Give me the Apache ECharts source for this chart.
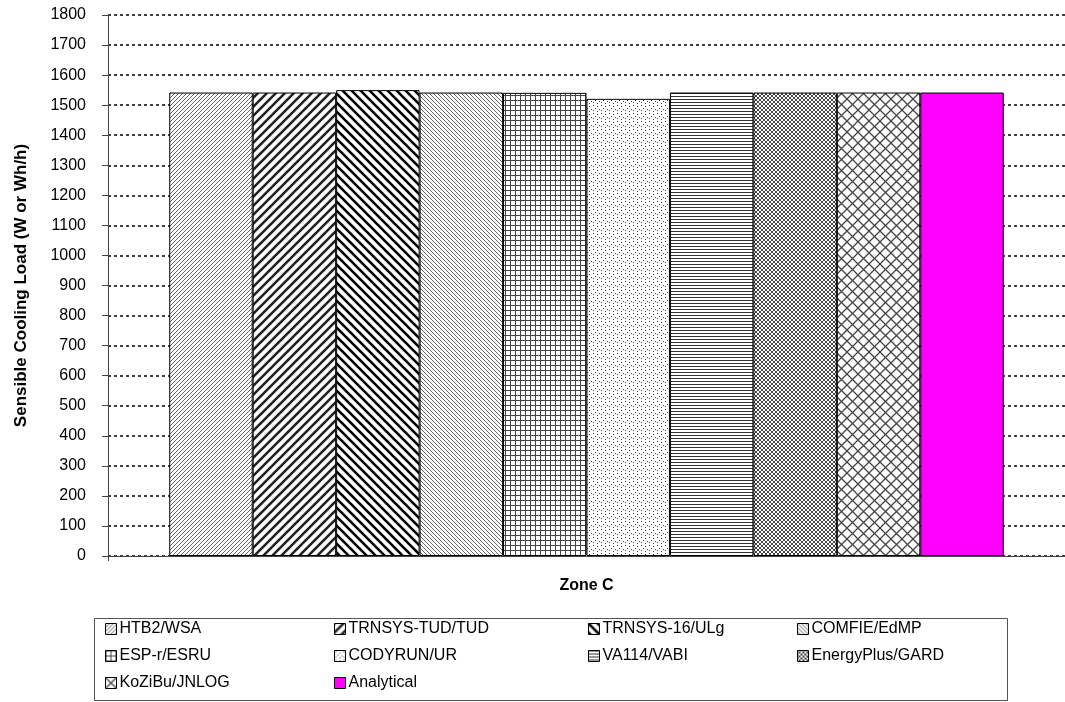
<!DOCTYPE html>
<html>
<head>
<meta charset="utf-8">
<script src="https://cdn.jsdelivr.net/npm/echarts@6/dist/echarts.min.js"></script>
<style>
html,body{margin:0;padding:0;background:#fff;}
#chart{width:1065px;height:702px;}
</style>
</head>
<body>
<div id="chart"></div>
<script>
const categories = ['Zone C'];
const seriesNames = ['HTB2/WSA','TRNSYS-TUD/TUD','TRNSYS-16/ULg','COMFIE/EdMP','ESP-r/ESRU','CODYRUN/UR','VA114/VABI','EnergyPlus/GARD','KoZiBu/JNLOG','Analytical'];
const seriesValues = [1542, 1542, 1550, 1542, 1541, 1521, 1542, 1542, 1542, 1542];
const yTicks = {min: 0, max: 1800, interval: 100};

function mk(size, draw) {
  const c = document.createElement('canvas');
  c.width = size; c.height = size;
  const g = c.getContext('2d');
  g.fillStyle = '#fff'; g.fillRect(0,0,size,size);
  draw(g, size);
  return {image: c, repeat: 'repeat'};
}
function diag(g, s, dir, w, col) {
  g.strokeStyle = col; g.lineWidth = w; g.lineCap = 'square';
  g.beginPath();
  for (let k = -1; k <= 1; k++) {
    if (dir > 0) { g.moveTo(k*s, s); g.lineTo(k*s + s, 0); }
    else { g.moveTo(k*s, 0); g.lineTo(k*s + s, s); }
  }
  g.stroke();
}
const patterns = [
  mk(4, (g,s)=>diag(g,s,1,1,'#666')),
  mk(9, (g,s)=>diag(g,s,1,2.6,'#222')),
  mk(9, (g,s)=>diag(g,s,-1,2.6,'#000')),
  mk(4, (g,s)=>diag(g,s,-1,1,'#666')),
  mk(5, (g,s)=>{ g.fillStyle='#444'; g.fillRect(0,0,s,1); g.fillRect(0,0,1,s); }),
  mk(8, (g,s)=>{ g.fillStyle='#444'; g.fillRect(1,1,1,1); g.fillRect(5,2,1,1); g.fillRect(3,4,1,1); g.fillRect(7,5,1,1); g.fillRect(1,6,1,1); g.fillRect(5,7,1,1);}),
  mk(3, (g,s)=>{ g.fillStyle='#333'; g.fillRect(0,0,s,1); }),
  mk(4, (g,s)=>{ diag(g,s,1,1,'#444'); diag(g,s,-1,1,'#444'); }),
  mk(11, (g,s)=>{ diag(g,s,1,1.3,'#444'); diag(g,s,-1,1.3,'#444'); }),
  '#FF00FF'
];

const series = seriesNames.map((n, i) => ({
  name: n,
  type: 'bar',
  data: [seriesValues[i]],
  barGap: '0%',
  barCategoryGap: '12.8%',
  itemStyle: {color: patterns[i], borderColor: '#000', borderWidth: 1},
  emphasis: {disabled: true},
  animation: false
}));

const legendCols = [
  {left: 105, names: ['HTB2/WSA','ESP-r/ESRU','KoZiBu/JNLOG']},
  {left: 334, names: ['TRNSYS-TUD/TUD','CODYRUN/UR','Analytical']},
  {left: 588, names: ['TRNSYS-16/ULg','VA114/VABI']},
  {left: 797, names: ['COMFIE/EdMP','EnergyPlus/GARD']}
];
const legends = legendCols.map(c => ({
  orient: 'vertical', left: c.left, top: 621, data: c.names,
  itemWidth: 11, itemHeight: 11, itemGap: 11, padding: 0,
  icon: 'rect',
  itemStyle: {borderColor: '#000', borderWidth: 1},
  textStyle: {fontFamily: 'Liberation Sans, Arial', fontSize: 16, color: '#000', padding: [0,0,0,-2]},
  selectedMode: false
}));

const chart = echarts.init(document.getElementById('chart'), null, {renderer: 'canvas'});
chart.setOption({
  backgroundColor: '#fff',
  animation: false,
  legend: legends,
  graphic: [{type: 'rect', shape: {x: 94.5, y: 618.5, width: 913, height: 82}, style: {fill: 'none', stroke: '#555', lineWidth: 1}, z: -1}],
  grid: {left: 108, right: -5, top: 15, bottom: 146, containLabel: false},
  xAxis: {
    type: 'category', data: categories,
    axisLine: {lineStyle: {color: '#444', width: 1}},
    axisTick: {show: true, length: 5, lineStyle: {color: '#444'}},
    axisLabel: {fontFamily: 'Liberation Sans, Arial', fontWeight: 'bold', fontSize: 16, color: '#000', margin: 22}
  },
  yAxis: {
    type: 'value', min: yTicks.min, max: yTicks.max, interval: yTicks.interval,
    name: 'Sensible Cooling Load (W or Wh/h)', nameLocation: 'middle', nameGap: 78,
    nameTextStyle: {fontFamily: 'Liberation Sans, Arial', fontWeight: 'bold', fontSize: 17, color: '#000'},
    axisLine: {show: true, lineStyle: {color: '#444', width: 1}},
    axisTick: {show: true, length: 6, lineStyle: {color: '#444'}},
    axisLabel: {fontFamily: 'Liberation Sans, Arial', fontSize: 16, color: '#000', margin: 22, formatter: v => String(v)},
    splitLine: {show: true, lineStyle: {color: '#000', type: [3, 3], width: 1.5}}
  },
  series: series
});
</script>
</body>
</html>
